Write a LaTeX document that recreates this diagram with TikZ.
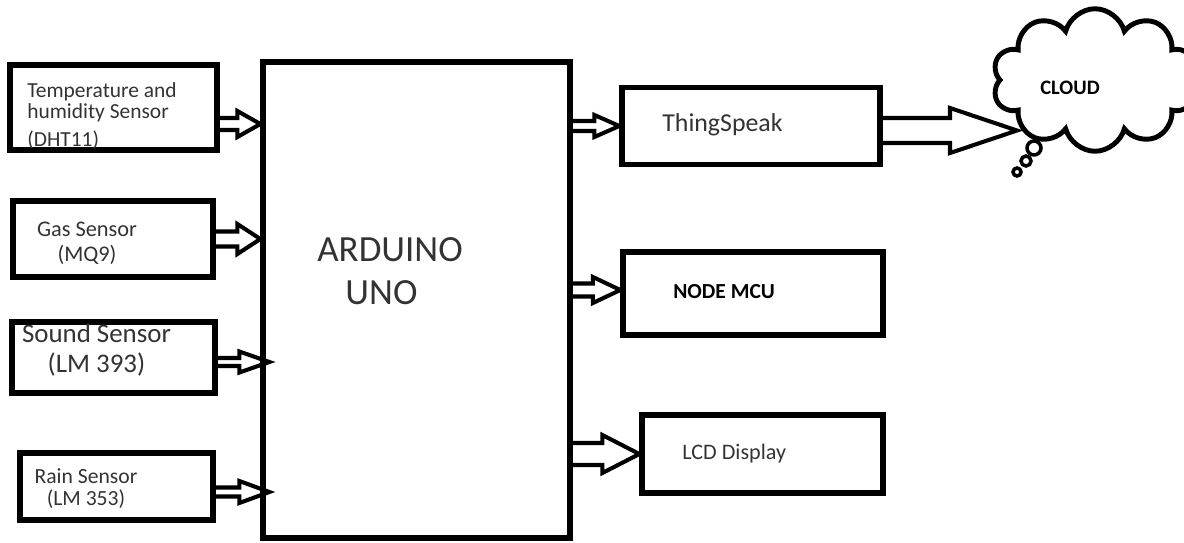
\documentclass[tikz,border=0pt]{standalone}
\usepackage{fontspec}
\setmainfont{Carlito}
\usetikzlibrary{calc,shapes.symbols}

% hollow block arrow: from, to, shaft half width, head half width, head length
\newcommand{\fatarrow}[5]{%
  \draw[flow] ($(#1)+(0,#3)$) -- ($(#2)+(-#5,#3)$) -- ($(#2)+(-#5,#4)$) -- (#2)
    -- ($(#2)+(-#5,-#4)$) -- ($(#2)+(-#5,-#3)$) -- ($(#1)+(0,-#3)$);}

\begin{document}
\begin{tikzpicture}[box/.style={draw, line width=3pt, inner sep=0pt},
    lbl/.style={text=black!80, inner sep=0pt},
    flow/.style={line width=2.3pt}]
    \useasboundingbox (0,0) rectangle (23.68,10.84);

    % Controller
    \node[box, minimum width=6.14cm, minimum height=9.52cm] (uno) at (8.33,4.84) {};
    \node[lbl, anchor=west, align=left, font=\fontsize{21}{24.4}\selectfont] (unotxt) at (6.34,5.41) {ARDUINO\\\hspace*{16pt}UNO};

    % Sensors
    \node[box, minimum width=4.14cm, minimum height=1.70cm] (temp) at (2.27,8.69) {};
    \node[lbl, anchor=west, align=left, font=\fontsize{12.2}{12}\selectfont] (temptxt) at (0.54,8.52) {Temperature and\\humidity Sensor\\[4pt](DHT11)};
    \node[box, minimum width=4.0cm, minimum height=1.52cm] (gas) at (2.26,6.06) {};
    \node[lbl, align=center, font=\fontsize{12.7}{14.2}\selectfont] (gastxt) at (1.74,5.98) {Gas Sensor\\(MQ9)};
    \node[box, minimum width=4.06cm, minimum height=1.42cm] (sound) at (2.27,3.69) {};
    \node[lbl, align=center, font=\fontsize{15.3}{17}\selectfont] (soundtxt) at (1.93,3.84) {Sound Sensor\\(LM 393)};
    \node[box, minimum width=3.86cm, minimum height=1.34cm] (rain) at (2.33,1.11) {};
    \node[lbl, align=center, font=\fontsize{12.3}{13}\selectfont] (raintxt) at (1.72,1.07) {Rain Sensor\\(LM 353)};

    % Outputs
    \node[box, minimum width=5.16cm, minimum height=1.54cm] (thing) at (15.02,8.32) {};
    \node[lbl, anchor=west, font=\fontsize{14.7}{16}\selectfont] (thingtxt) at (13.24,8.34) {ThingSpeak};
    \node[box, minimum width=5.2cm, minimum height=1.66cm] (mcu) at (15.06,4.97) {};
    \node[lbl, text=black, anchor=west, font=\bfseries\fontsize{12.2}{14}\selectfont] (mcutxt) at (13.46,5.0) {NODE MCU};
    \node[box, minimum width=4.82cm, minimum height=1.56cm] (lcd) at (15.25,1.76) {};
    \node[lbl, anchor=west, font=\fontsize{12.6}{14}\selectfont] (lcdtxt) at (13.64,1.76) {LCD Display};

    % Cloud
    \node[cloud, draw, line width=2.8pt, cloud puffs=10, cloud ignores aspect,
          minimum width=4.1cm, minimum height=2.85cm, inner sep=0pt] (cloud) at (21.9,9.24) {};
    \node[lbl, text=black, font=\bfseries\fontsize{11.7}{13}\selectfont] (cloudtxt) at (21.4,9.08) {CLOUD};
    \node[draw, circle, line width=2pt, minimum size=0.28cm, inner sep=0pt] (bub1) at (20.68,7.88) {};
    \node[draw, circle, line width=2pt, minimum size=0.2cm, inner sep=0pt] (bub2) at (20.52,7.62) {};
    \node[draw, circle, line width=2pt, minimum size=0.16cm, inner sep=0pt] (bub3) at (20.34,7.40) {};

    % Inputs into the controller
    \coordinate (tempa) at ($(temp.east)+(0,-0.33)$);
    \coordinate (tempb) at (uno.west |- tempa);
    \fatarrow{tempa}{tempb}{0.12}{0.26}{0.46}
    \coordinate (gasb) at (uno.west |- gas.east);
    \fatarrow{gas.east}{gasb}{0.15}{0.30}{0.46}
    \coordinate (sounda) at ($(sound.east)+(0,-0.09)$);
    \coordinate (soundb) at ($(uno.west |- sounda)+(0.18,0)$);
    \fatarrow{sounda}{soundb}{0.08}{0.21}{0.6}
    \coordinate (raina) at ($(rain.east)+(0,-0.11)$);
    \coordinate (rainb) at ($(uno.west |- raina)+(0.18,0)$);
    \fatarrow{raina}{rainb}{0.09}{0.22}{0.6}

    % Outputs from the controller
    \coordinate (thinga) at (uno.east |- thing.west);
    \fatarrow{thinga}{thing.west}{0.1}{0.22}{0.5}
    \coordinate (mcub) at ($(mcu.west)+(0,0.07)$);
    \coordinate (mcua) at (uno.east |- mcub);
    \fatarrow{mcua}{mcub}{0.13}{0.26}{0.55}
    \coordinate (lcda) at (uno.east |- lcd.west);
    \fatarrow{lcda}{lcd.west}{0.22}{0.38}{0.74}

    % Upload
    \coordinate (cloudout) at ($(thing.east)+(0,-0.09)$);
    \coordinate (cloudin) at ($(cloud.center)+(-1.56,-1.01)$);
    \fatarrow{cloudout}{cloudin}{0.25}{0.45}{1.34}
\end{tikzpicture}
\end{document}
